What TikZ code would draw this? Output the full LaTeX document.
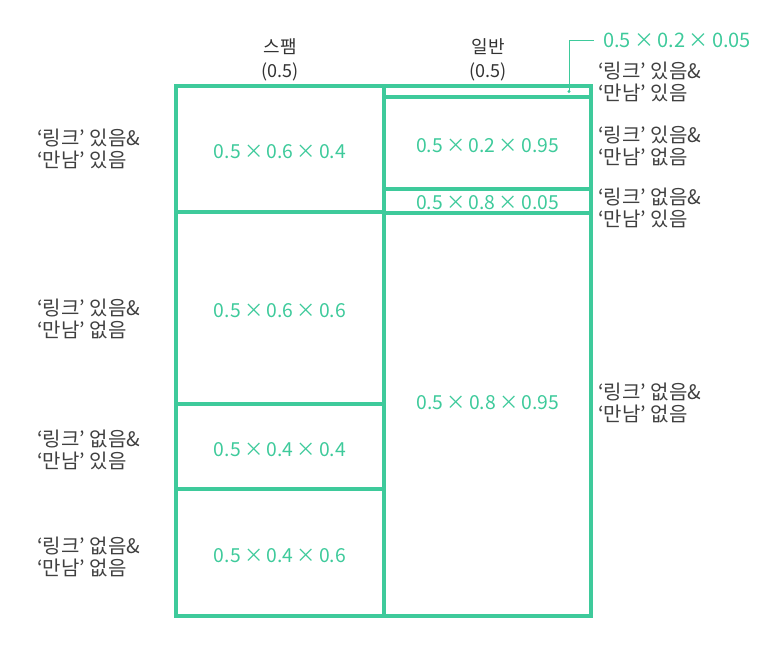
\documentclass[tikz,border=0pt]{standalone}
\usepackage{fontspec}
\setmainfont{Noto Sans CJK KR}
\usetikzlibrary{positioning, calc}
\definecolor{mint}{RGB}{62,202,155}
\newcommand{\tms}{\,×\,}
\tikzset{
	cell/.style={draw=mint, line width=2.6pt, inner sep=0pt, outer sep=0pt, anchor=north west, text height=14.5pt, text depth=0pt, font=\fontsize{14.5}{16}\selectfont\color{mint}},
	case/.style={align=left, inner sep=0pt, font=\fontsize{15}{16.5}\selectfont\color{black!75}},
	head/.style={align=center, inner sep=0pt, font=\fontsize{13.5}{18}\selectfont\color{black!80}}
}

\begin{document}
\begin{tikzpicture}[x=0.75pt, y=-0.75pt]
		\useasboundingbox (0,0) rectangle (763,667);
		\coordinate (spamtop) at (176, 86);
		\coordinate (hamtop)  at (384, 86);

		% spam column
		\node[cell, minimum width=208*0.75pt, minimum height=126*0.75pt] (SA) at (spamtop) {0.5\tms0.6\tms0.4};
		\node[cell, minimum width=208*0.75pt, minimum height=192*0.75pt] (SB) at (SA.south west) {0.5\tms0.6\tms0.6};
		\node[cell, minimum width=208*0.75pt, minimum height=85*0.75pt] (SC) at (SB.south west) {0.5\tms0.4\tms0.4};
		\node[cell, minimum width=208*0.75pt, minimum height=127*0.75pt] (SD) at (SC.south west) {0.5\tms0.4\tms0.6};

		% ham column
		\node[cell, minimum width=207*0.75pt, minimum height=11*0.75pt, text height=0pt] (HA) at (hamtop) {};
		\node[cell, minimum width=207*0.75pt, minimum height=92*0.75pt] (HB) at (HA.south west) {0.5\tms0.2\tms0.95};
		\node[cell, minimum width=207*0.75pt, minimum height=24*0.75pt, text height=12pt] (HC) at (HB.south west) {0.5\tms0.8\tms0.05};
		\node[cell, minimum width=207*0.75pt, minimum height=403*0.75pt] (HD) at (HC.south west) {};
		\node[font=\fontsize{14.5}{16}\selectfont\color{mint}, inner sep=0pt] (HDtext) at (488, 403) {0.5\tms0.8\tms0.95};

		% column heads
		\node[head] (SPAM) at (280, 60) {스팸\\(0.5)};
		\node[head] (HAM)  at (488, 60) {일반\\(0.5)};

		% cases, left
		\node[case, anchor=west] (LA) at (37, 149) {‘링크’ 있음\&\\‘만남’ 있음};
		\node[case, anchor=west] (LB) at (37, 319) {‘링크’ 있음\&\\‘만남’ 없음};
		\node[case, anchor=west] (LC) at (37, 450) {‘링크’ 없음\&\\‘만남’ 있음};
		\node[case, anchor=west] (LD) at (37, 557) {‘링크’ 없음\&\\‘만남’ 없음};

		% cases, right
		\node[case, anchor=west] (RA) at (598, 82) {‘링크’ 있음\&\\‘만남’ 있음};
		\node[case, anchor=west] (RB) at (598, 146) {‘링크’ 있음\&\\‘만남’ 없음};
		\node[case, anchor=west] (RC) at (598, 208) {‘링크’ 없음\&\\‘만남’ 있음};
		\node[case, anchor=west] (RD) at (598, 403) {‘링크’ 없음\&\\‘만남’ 없음};

		% leader for the thin strip
		\node[font=\fontsize{15}{16}\selectfont\color{mint}, anchor=west, inner sep=0pt] (TOP) at (603, 40) {0.5\tms0.2\tms0.05};
		\coordinate (dot) at ($(HA.east)+(-22, 0)$);
		\fill[mint] (dot) circle (1.6);
		\draw[mint, line width=0.6pt] (dot) |- ($(TOP.west)+(-9, 0)$);
\end{tikzpicture}
\end{document}
